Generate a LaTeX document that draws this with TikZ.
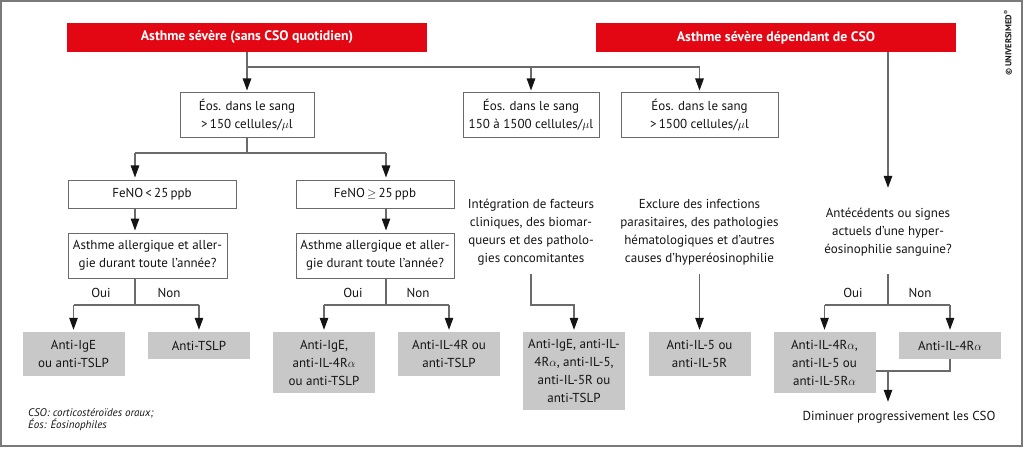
\documentclass[tikz,border=0pt]{standalone}
\usepackage{amsmath}
\usepackage{fontspec}
\setmainfont{PT Sans}
\usepackage{tikz}
\usetikzlibrary{arrows.meta,calc}
\definecolor{redbar}{HTML}{E30613}
\definecolor{boxgray}{HTML}{C8C8C8}
\definecolor{linegray}{HTML}{6A6A6A}
\definecolor{framegray}{HTML}{7A7A7A}
\definecolor{ink}{HTML}{141414}
\newcommand{\bodyfont}{\fontsize{13}{18}\selectfont}
\tikzset{
  titleBar/.style={fill=redbar, text=white, font=\bfseries\fontsize{13.8}{15}\selectfont, minimum width=360pt, minimum height=29pt, inner sep=0pt},
  testBox/.style={draw=linegray, line width=1pt, fill=white, text=ink, font=\bodyfont, align=center, inner sep=0pt},
  drugBox/.style={fill=boxgray, text=ink, font=\bodyfont, align=center, inner sep=0pt, minimum width=102pt},
  stepText/.style={text=ink, font=\bodyfont, align=center, inner sep=0pt, minimum height=84pt},
  branchLab/.style={text=ink, font=\bodyfont, inner sep=0pt},
  footText/.style={text=ink, font=\itshape\fontsize{11}{12}\selectfont, align=left, inner sep=0pt},
  link/.style={draw=linegray, line width=1.1pt},
  arr/.style={link, -{Triangle[width=8.5pt,length=12pt,color=ink]}, shorten >=2pt}
}

\begin{document}
\begin{tikzpicture}[x=1pt, y=-1pt]
  \useasboundingbox (0,0) rectangle (1024,449);
  \draw[framegray, line width=1.5pt] (1,1) rectangle (1022,446);

  % titles
  \node[titleBar] (redA) at (247,37.5) {Asthme sévère (sans CSO quotidien)};
  \node[titleBar] (redB) at (776,37.5) {Asthme sévère dépendant de CSO};
  \node[text=ink, rotate=90, inner sep=0pt, font=\bfseries\fontsize{8.5}{9}\selectfont] (copy) at (1008,43) {© UNIVERSIMED\textsuperscript{®}};

  % blood eosinophils
  \node[testBox, minimum width=134pt, minimum height=45pt] (eosA) at (247,115.5) {Éos. dans le sang\\>\,150 cellules/$\mu$l};
  \node[testBox, minimum width=136pt, minimum height=45pt] (eosB) at (531,115.5) {Éos. dans le sang\\150 à 1500 cellules/$\mu$l};
  \node[testBox, minimum width=157pt, minimum height=45pt] (eosC) at (699.5,115.5) {Éos. dans le sang\\>\,1500 cellules/$\mu$l};

  % FeNO and allergy
  \node[testBox, minimum width=168pt, minimum height=28pt] (fenoA) at (152,194) {FeNO\,<\,25\,ppb};
  \node[testBox, minimum width=158pt, minimum height=28pt] (fenoB) at (375,194) {FeNO\,$\geq$\,25\,ppb};
  \node[testBox, minimum width=159pt, minimum height=45pt] (quesA) at (147.5,255.5) {Asthme allergique et aller-\\gie durant toute l’année?};
  \node[testBox, minimum width=158pt, minimum height=45pt] (quesB) at (375,255.5) {Asthme allergique et aller-\\gie durant toute l’année?};

  % plain steps
  \node[stepText] (integ) at (531,232) {Intégration de facteurs\\cliniques, des biomar-\\queurs et des patholo-\\gies concomitantes};
  \node[stepText] (exclu) at (699.5,232) {Exclure des infections\\parasitaires, des pathologies\\hématologiques et d’autres\\causes d’hyperéosinophilie};
  \node[stepText] (antec) at (888,232) {Antécédents ou signes\\actuels d’une hyper-\\éosinophilie sanguine?};

  % treatments
  \node[drugBox, minimum height=44pt] (drugA) at (73.5,354) {Anti-IgE\\ou anti-TSLP};
  \node[drugBox, minimum height=27pt] (drugB) at (199,345.5) {Anti-TSLP};
  \node[drugBox, minimum height=61pt] (drugC) at (324,362.5) {Anti-IgE,\\anti-IL-4R$\alpha$\\ou anti-TSLP};
  \node[drugBox, minimum height=44pt] (drugD) at (449,354) {Anti-IL-4R ou\\anti-TSLP};
  \node[drugBox, minimum height=78pt] (drugE) at (574,371) {Anti-IgE, anti-IL-\\4R$\alpha$, anti-IL-5,\\anti-IL-5R ou\\anti-TSLP};
  \node[drugBox, minimum height=44pt] (drugF) at (699.5,354) {Anti-IL-5 ou\\anti-IL-5R};
  \node[drugBox, minimum height=61pt] (drugG) at (824.5,362.5) {Anti-IL-4R$\alpha$,\\anti-IL-5 ou\\anti-IL-5R$\alpha$};
  \node[drugBox, minimum height=27pt] (drugH) at (950,345.5) {Anti-IL-4R$\alpha$};
  \node[branchLab, inner ysep=7pt] (dimin) at (899,417) {Diminuer progressivement les CSO};

  \node[footText, anchor=west] (foot) at (28,420) {CSO: corticostéroïdes oraux;\\Éos: Éosinophiles};

  % connectors
  \coordinate (splitA) at (247,67);
  \draw[arr] (redA.south) -- (eosA.north);
  \draw[link] (splitA) -- (splitA -| eosC.north);
  \draw[arr] (splitA -| eosB.north) -- (eosB.north);
  \draw[arr] (splitA -| eosC.north) -- (eosC.north);
  \draw[arr] (redB.south -| antec.north) -- (antec.north);

  \coordinate (colA) at (135,153);
  \coordinate (colB) at (386,153);
  \draw[link] (eosA.south) -- (eosA.south |- colA);
  \draw[link] (colA) -- (colB);
  \draw[arr] (colA) -- (colA |- fenoA.north);
  \draw[arr] (colB) -- (colB |- fenoB.north);
  \draw[arr] (colA |- fenoA.south) -- (colA |- quesA.north);
  \draw[arr] (colB |- fenoB.south) -- (colB |- quesB.north);

  \coordinate (forkA) at (135,305);
  \coordinate (forkB) at (386,305);
  \coordinate (forkR) at (888,305);
  \draw[link] (colA |- quesA.south) -- (forkA);
  \draw[link] (colB |- quesB.south) -- (forkB);
  \draw[link] (antec.south) -- (forkR);
  \draw[link] (forkA -| drugA.north) -- (forkA -| drugB.north);
  \draw[link] (forkB -| drugC.north) -- (forkB -| drugD.north);
  \draw[link] (forkR -| drugG.north) -- (forkR -| drugH.north);
  \draw[arr] (forkA -| drugA.north) -- (drugA.north);
  \draw[arr] (forkA -| drugB.north) -- (drugB.north);
  \draw[arr] (forkB -| drugC.north) -- (drugC.north);
  \draw[arr] (forkB -| drugD.north) -- (drugD.north);
  \draw[arr] (forkR -| drugG.north) -- (drugG.north);
  \draw[arr] (forkR -| drugH.north) -- (drugH.north);

  \node[branchLab] (ouiA) at (101,293) {Oui};
  \node[branchLab] (nonA) at (169,293) {Non};
  \node[branchLab] (ouiB) at (353,293) {Oui};
  \node[branchLab] (nonB) at (418,293) {Non};
  \node[branchLab] (ouiR) at (853,293) {Oui};
  \node[branchLab] (nonR) at (920,293) {Non};

  \coordinate (forkM) at (531,305);
  \draw[arr] (integ.south) -- (forkM) -| (drugE.north);
  \draw[arr] (exclu.south) -- (drugF.north);

  \coordinate (joinR) at (888,371);
  \draw[link] (drugH.south) |- (drugG.east |- joinR);
  \draw[arr] (joinR) -- (joinR |- dimin.north);
\end{tikzpicture}
\end{document}
